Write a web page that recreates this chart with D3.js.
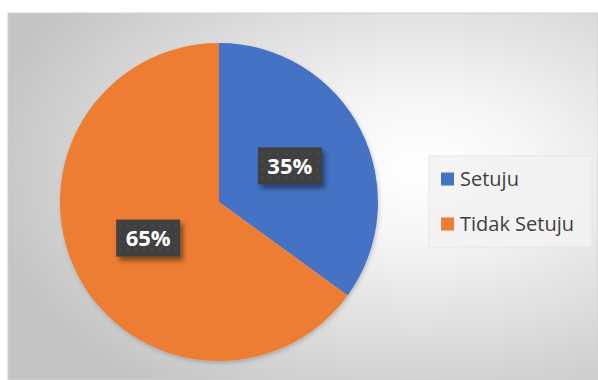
<!DOCTYPE html>
<html>
<head>
<meta charset="utf-8">
<script src="https://cdn.jsdelivr.net/npm/d3@7"></script>
<style>
  html, body { margin: 0; padding: 0; background: #fff; }
  svg { display: block; }
</style>
</head>
<body>
<div id="chart"></div>
<script>
// pie chart: setuju vs tidak setuju

var categories = ['Setuju', 'Tidak Setuju'];
var values = [35, 65];
var colors = ['#4472c4', '#ed7d31'];

var width = 598, height = 380;
var svg = d3.select('#chart').append('svg')
    .attr('width', width)
    .attr('height', height);

var defs = svg.append('defs');

// background gradient like the office chart style
var bg = defs.append('radialGradient')
    .attr('id', 'bg')
    .attr('cx', '0.7').attr('cy', '0.42').attr('r', '0.75');
bg.append('stop').attr('offset', '0').attr('stop-color', '#ffffff');
bg.append('stop').attr('offset', '0.25').attr('stop-color', '#f6f6f6');
bg.append('stop').attr('offset', '1').attr('stop-color', '#c4c4c4');

// dotted pattern for the data label boxes
var pat = defs.append('pattern')
    .attr('id', 'dots')
    .attr('width', 8).attr('height', 8)
    .attr('patternUnits', 'userSpaceOnUse');
pat.append('rect').attr('width', 8).attr('height', 8).attr('fill', '#3f3f3f');
pat.append('rect').attr('x', 3).attr('y', 3).attr('width', 2).attr('height', 2).attr('fill', '#4f4f4f');

var shadow = defs.append('filter').attr('id', 'shadow')
    .attr('x', '-20%').attr('y', '-20%').attr('width', '150%').attr('height', '160%');
shadow.append('feDropShadow')
    .attr('dx', 3).attr('dy', 4).attr('stdDeviation', 2.5)
    .attr('flood-color', '#000').attr('flood-opacity', 0.45);

var pieShadow = defs.append('filter').attr('id', 'pieshadow')
    .attr('x', '-10%').attr('y', '-10%').attr('width', '125%').attr('height', '125%');
pieShadow.append('feDropShadow')
    .attr('dx', 1).attr('dy', 2).attr('stdDeviation', 2)
    .attr('flood-color', '#000').attr('flood-opacity', 0.2);

svg.append('rect')
    .attr('x', 8).attr('y', 13)
    .attr('width', width - 8).attr('height', height - 13)
    .attr('fill', 'url(#bg)')
    .attr('stroke', '#d0d0d0');

// pie
var cx = 219, cy = 202, radius = 159;
var pie = d3.pie().sort(null).value(function(d) { return d; });
var arc = d3.arc().innerRadius(0).outerRadius(radius);
var arcs = pie(values);

var g = svg.append('g').attr('transform', 'translate(' + cx + ',' + cy + ')');
g.append('g').attr('filter', 'url(#pieshadow)')
  .selectAll('path')
  .data(arcs)
  .enter().append('path')
    .attr('d', arc)
    .attr('fill', function(d, i) { return colors[i]; })
    .attr('stroke', 'none');

// data labels
var labelArc = d3.arc().innerRadius(radius * 0.5).outerRadius(radius * 0.5);
var boxW = 64, boxH = 37;
var labels = g.selectAll('g.lbl')
    .data(arcs)
    .enter().append('g')
    .attr('class', 'lbl')
    .attr('transform', function(d) {
        var c = labelArc.centroid(d);
        return 'translate(' + c[0] + ',' + c[1] + ')';
    });
labels.append('rect')
    .attr('x', -boxW / 2).attr('y', -boxH / 2)
    .attr('width', boxW).attr('height', boxH)
    .attr('fill', 'url(#dots)')
    .attr('filter', 'url(#shadow)');
labels.append('text')
    .attr('text-anchor', 'middle')
    .attr('dy', '0.36em')
    .attr('fill', '#fff')
    .style('font-family', '"Open Sans", sans-serif')
    .style('font-weight', 'bold')
    .style('font-size', '22px')
    .text(function(d) { return d.data + '%'; });

// legend
var legend = svg.append('g').attr('transform', 'translate(429,156)');
legend.append('rect')
    .attr('width', 163).attr('height', 91)
    .attr('fill', '#f2f2f2').attr('fill-opacity', 0.85)
    .attr('stroke', '#e6e6e6');
var items = legend.selectAll('g.item')
    .data(categories)
    .enter().append('g')
    .attr('class', 'item')
    .attr('transform', function(d, i) { return 'translate(12,' + (23 + i * 45) + ')'; });
items.append('rect')
    .attr('x', 0).attr('y', -6.5)
    .attr('width', 13).attr('height', 13)
    .attr('fill', function(d, i) { return colors[i]; });
items.append('text')
    .attr('x', 19).attr('dy', '0.36em')
    .attr('fill', '#404040')
    .style('font-family', '"Open Sans", sans-serif')
    .style('font-size', '20px')
    .text(function(d) { return d; });
</script>
</body>
</html>
